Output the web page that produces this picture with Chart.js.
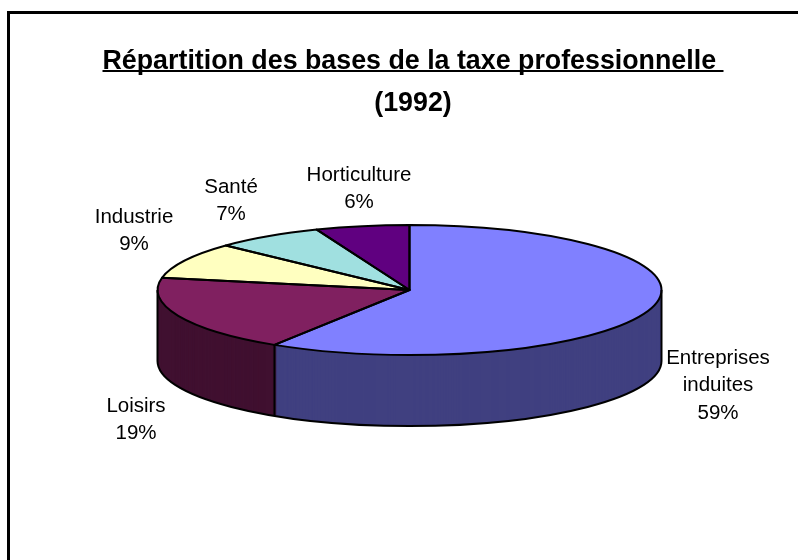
<!DOCTYPE html>
<html>
<head>
<meta charset="utf-8">
<style>html,body{margin:0;padding:0;background:#fff}canvas{display:block}</style>
<script src="https://cdn.jsdelivr.net/npm/chart.js@4/dist/chart.umd.min.js"></script>
</head>
<body>
<canvas id="c" width="798" height="560"></canvas>
<script>
const categories = ['Entreprises induites', 'Loisirs', 'Industrie', 'Santé', 'Horticulture'];
const values = [59, 19, 9, 7, 6];
const titleLines = ['Répartition des bases de la taxe professionnelle ', '(1992)'];
const topColors = ['#8080FF', '#802060', '#FFFFC0', '#A0E0E0', '#600080'];
const sideColors = ['#404080', '#401030', '#808060', '#507070', '#300040'];
const labelLines = [['Entreprises', 'induites', '59%'], ['Loisirs', '19%'], ['Industrie', '9%'], ['Santé', '7%'], ['Horticulture', '6%']];
const labelSpots = [[718, 358], [136, 406], [134, 217], [231, 187], [359, 175]];

const geom = {cx: 409.5, cy: 290, rx: 252, ry: 65, depth: 71};
const FS_TITLE = 26.8, FS_LABEL = 20.5, LABEL_STEP = 27.5;

function place(ctx, arc, dy) {
  ctx.translate(geom.cx, geom.cy + dy);
  ctx.scale(geom.rx / arc.outerRadius, geom.ry / arc.outerRadius);
  ctx.translate(-arc.x, -arc.y);
}

const pie3d = {
  id: 'pie3d',
  beforeDraw(chart) {
    const c = chart.ctx;
    c.save();
    c.fillStyle = '#fff';
    c.fillRect(0, 0, chart.width, chart.height);
    c.fillStyle = '#000';
    c.fillRect(7, 11, chart.width - 7, 3);
    c.fillRect(7, 11, 3, chart.height - 11);
    c.restore();
  },
  beforeDatasetsDraw(chart) {
    const c = chart.ctx, arcs = chart.getDatasetMeta(0).data;
    for (let d = geom.depth; d >= 1; d--) {
      c.save();
      place(c, arcs[0], d);
      arcs.forEach((arc, i) => {
        const keep = arc.options;
        arc.options = Object.assign({}, keep, {backgroundColor: sideColors[i], borderWidth: 0});
        arc.draw(c);
        arc.options = keep;
      });
      c.restore();
    }
    c.save();
    place(c, arcs[0], 0);
  },
  afterDatasetsDraw(chart) {
    const c = chart.ctx, arcs = chart.getDatasetMeta(0).data;
    c.restore();
    const {cx, cy, rx, ry, depth} = geom;
    c.save();
    c.strokeStyle = '#000';
    c.lineWidth = 2;
    c.lineJoin = 'round';
    // outline of the extruded wall
    c.beginPath();
    c.ellipse(cx, cy + depth, rx, ry, 0, 0, Math.PI);
    c.stroke();
    const edges = [0, Math.PI];
    arcs.forEach(a => {
      const s = ((a.startAngle % (2 * Math.PI)) + 2 * Math.PI) % (2 * Math.PI);
      if (s > 0 && s < Math.PI) edges.push(s);
    });
    edges.forEach(a => {
      const x = cx + rx * Math.cos(a), y = cy + ry * Math.sin(a);
      c.beginPath();
      c.moveTo(x, y);
      c.lineTo(x, y + depth);
      c.stroke();
    });
    // outlines of the top face
    arcs.forEach(a => {
      c.beginPath();
      c.moveTo(cx, cy);
      c.ellipse(cx, cy, rx, ry, 0, a.startAngle, a.endAngle);
      c.closePath();
      c.stroke();
    });
    c.restore();
  },
  afterDraw(chart) {
    const c = chart.ctx;
    c.save();
    // category labels
    c.fillStyle = '#000';
    c.font = FS_LABEL + 'px "Liberation Sans"';
    c.textAlign = 'center';
    c.textBaseline = 'middle';
    labelLines.forEach((lines, i) => {
      lines.forEach((t, j) => c.fillText(t, labelSpots[i][0], labelSpots[i][1] + j * LABEL_STEP));
    });
    // title underline
    const tb = chart.titleBlock;
    c.font = 'bold ' + FS_TITLE + 'px "Liberation Sans"';
    const w = c.measureText(titleLines[0]).width;
    const mid = (tb.left + tb.right) / 2;
    c.fillRect(mid - w / 2, 70, w, 2);
    c.restore();
  }
};

new Chart(document.getElementById('c'), {
  type: 'pie',
  data: {
    labels: categories,
    datasets: [{data: values, backgroundColor: topColors, borderWidth: 0, clip: false}]
  },
  options: {
    responsive: false,
    animation: false,
    layout: {padding: {left: 28, right: 0, top: 0, bottom: 0}},
    plugins: {
      legend: {display: false},
      tooltip: {enabled: false},
      title: {
        display: true,
        text: titleLines,
        color: '#000',
        font: {family: '"Liberation Sans"', size: FS_TITLE, weight: 'bold', lineHeight: 1.567},
        padding: {top: 41, bottom: 0}
      }
    }
  },
  plugins: [pie3d]
});
</script>
</body>
</html>
